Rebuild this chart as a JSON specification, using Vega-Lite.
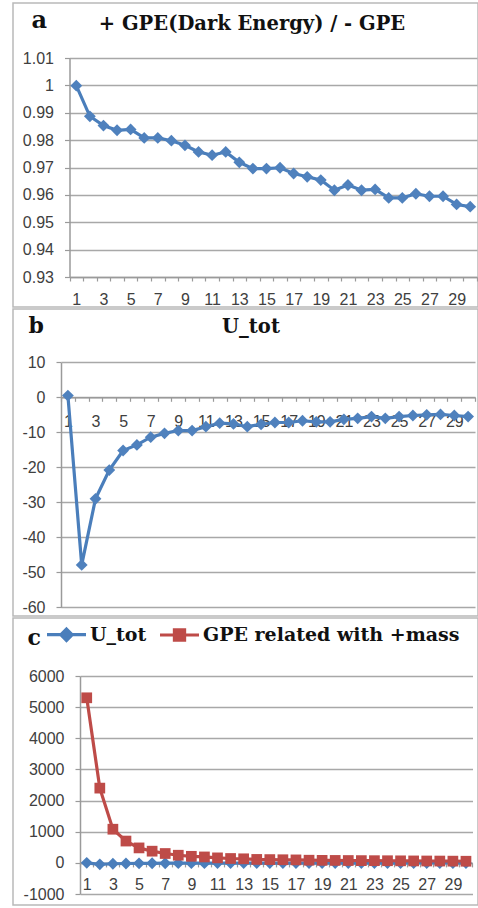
{
  "$schema": "https://vega.github.io/schema/vega-lite/v6.json",
  "padding": {"left": 12, "top": 2, "right": 0, "bottom": 0},
  "spacing": 0,
  "config": {
    "view": {"stroke": "#b9b9b9", "strokeWidth": 1.5},
    "axis": {
      "labelFont": "Liberation Sans", "labelFontSize": 16, "labelColor": "#404040",
      "domainColor": "#9a9a9a", "domainWidth": 1.5, "tickColor": "#9a9a9a", "tickWidth": 1.2,
      "gridColor": "#a8a8a8", "gridWidth": 1.6,
      "titleFont": "DejaVu Serif", "titleFontWeight": "bold", "titleColor": "#111111",
      "titleAngle": 0, "titleBaseline": "alphabetic"
    }
  },
  "datasets": {
    "ratio": [
      {"n": 1, "v": 0.9999}, {"n": 2, "v": 0.9887}, {"n": 3, "v": 0.9853}, {"n": 4, "v": 0.9836},
      {"n": 5, "v": 0.9839}, {"n": 6, "v": 0.9808}, {"n": 7, "v": 0.9808}, {"n": 8, "v": 0.9798},
      {"n": 9, "v": 0.9781}, {"n": 10, "v": 0.9757}, {"n": 11, "v": 0.9745}, {"n": 12, "v": 0.9757},
      {"n": 13, "v": 0.9719}, {"n": 14, "v": 0.9696}, {"n": 15, "v": 0.9696}, {"n": 16, "v": 0.9699},
      {"n": 17, "v": 0.9678}, {"n": 18, "v": 0.9666}, {"n": 19, "v": 0.9654}, {"n": 20, "v": 0.9617},
      {"n": 21, "v": 0.9636}, {"n": 22, "v": 0.9617}, {"n": 23, "v": 0.962}, {"n": 24, "v": 0.9589},
      {"n": 25, "v": 0.9589}, {"n": 26, "v": 0.9604}, {"n": 27, "v": 0.9595}, {"n": 28, "v": 0.9595},
      {"n": 29, "v": 0.9565}, {"n": 30, "v": 0.9557}
    ],
    "utot": [
      {"n": 1, "v": 0.5}, {"n": 2, "v": -47.9}, {"n": 3, "v": -29.0}, {"n": 4, "v": -20.8},
      {"n": 5, "v": -15.2}, {"n": 6, "v": -13.6}, {"n": 7, "v": -11.4}, {"n": 8, "v": -10.3},
      {"n": 9, "v": -9.5}, {"n": 10, "v": -9.5}, {"n": 11, "v": -8.4}, {"n": 12, "v": -7.4},
      {"n": 13, "v": -7.6}, {"n": 14, "v": -8.4}, {"n": 15, "v": -7.7}, {"n": 16, "v": -7.2},
      {"n": 17, "v": -7.2}, {"n": 18, "v": -6.7}, {"n": 19, "v": -7.0}, {"n": 20, "v": -7.0},
      {"n": 21, "v": -6.3}, {"n": 22, "v": -6.0}, {"n": 23, "v": -5.5}, {"n": 24, "v": -6.0},
      {"n": 25, "v": -5.5}, {"n": 26, "v": -5.2}, {"n": 27, "v": -5.0}, {"n": 28, "v": -4.9},
      {"n": 29, "v": -5.2}, {"n": 30, "v": -5.5}
    ],
    "both": [
      {"n": 1, "s": "U_tot", "v": 0.5}, {"n": 2, "s": "U_tot", "v": -47.9}, {"n": 3, "s": "U_tot", "v": -29.0},
      {"n": 4, "s": "U_tot", "v": -20.8}, {"n": 5, "s": "U_tot", "v": -15.2}, {"n": 6, "s": "U_tot", "v": -13.6},
      {"n": 7, "s": "U_tot", "v": -11.4}, {"n": 8, "s": "U_tot", "v": -10.3}, {"n": 9, "s": "U_tot", "v": -9.5},
      {"n": 10, "s": "U_tot", "v": -9.5}, {"n": 11, "s": "U_tot", "v": -8.4}, {"n": 12, "s": "U_tot", "v": -7.4},
      {"n": 13, "s": "U_tot", "v": -7.6}, {"n": 14, "s": "U_tot", "v": -8.4}, {"n": 15, "s": "U_tot", "v": -7.7},
      {"n": 16, "s": "U_tot", "v": -7.2}, {"n": 17, "s": "U_tot", "v": -7.2}, {"n": 18, "s": "U_tot", "v": -6.7},
      {"n": 19, "s": "U_tot", "v": -7.0}, {"n": 20, "s": "U_tot", "v": -7.0}, {"n": 21, "s": "U_tot", "v": -6.3},
      {"n": 22, "s": "U_tot", "v": -6.0}, {"n": 23, "s": "U_tot", "v": -5.5}, {"n": 24, "s": "U_tot", "v": -6.0},
      {"n": 25, "s": "U_tot", "v": -5.5}, {"n": 26, "s": "U_tot", "v": -5.2}, {"n": 27, "s": "U_tot", "v": -5.0},
      {"n": 28, "s": "U_tot", "v": -4.9}, {"n": 29, "s": "U_tot", "v": -5.2}, {"n": 30, "s": "U_tot", "v": -5.5},
      {"n": 1, "s": "GPE related with +mass", "v": 5300}, {"n": 2, "s": "GPE related with +mass", "v": 2400},
      {"n": 3, "s": "GPE related with +mass", "v": 1080}, {"n": 4, "s": "GPE related with +mass", "v": 700},
      {"n": 5, "s": "GPE related with +mass", "v": 480}, {"n": 6, "s": "GPE related with +mass", "v": 375},
      {"n": 7, "s": "GPE related with +mass", "v": 300}, {"n": 8, "s": "GPE related with +mass", "v": 245},
      {"n": 9, "s": "GPE related with +mass", "v": 210}, {"n": 10, "s": "GPE related with +mass", "v": 190},
      {"n": 11, "s": "GPE related with +mass", "v": 160}, {"n": 12, "s": "GPE related with +mass", "v": 140},
      {"n": 13, "s": "GPE related with +mass", "v": 130}, {"n": 14, "s": "GPE related with +mass", "v": 110},
      {"n": 15, "s": "GPE related with +mass", "v": 105}, {"n": 16, "s": "GPE related with +mass", "v": 100},
      {"n": 17, "s": "GPE related with +mass", "v": 95}, {"n": 18, "s": "GPE related with +mass", "v": 85},
      {"n": 19, "s": "GPE related with +mass", "v": 80}, {"n": 20, "s": "GPE related with +mass", "v": 78},
      {"n": 21, "s": "GPE related with +mass", "v": 75}, {"n": 22, "s": "GPE related with +mass", "v": 72},
      {"n": 23, "s": "GPE related with +mass", "v": 70}, {"n": 24, "s": "GPE related with +mass", "v": 68},
      {"n": 25, "s": "GPE related with +mass", "v": 65}, {"n": 26, "s": "GPE related with +mass", "v": 62},
      {"n": 27, "s": "GPE related with +mass", "v": 60}, {"n": 28, "s": "GPE related with +mass", "v": 58},
      {"n": 29, "s": "GPE related with +mass", "v": 55}, {"n": 30, "s": "GPE related with +mass", "v": 52}
    ]
  },
  "vconcat": [
    {
      "width": 465,
      "height": 304,
      "data": {"name": "ratio"},
      "encoding": {
        "x": {
          "field": "n", "type": "ordinal", "bandPosition": 0.5,
          "scale": {"type": "band", "range": [56.5, 464], "paddingInner": 0, "paddingOuter": 0},
          "axis": {
            "title": "+ GPE(Dark Energy) / - GPE", "titleX": 238.5, "titleY": -248, "titleAlign": "center",
            "titleFontSize": 19.5,
            "offset": -30, "tickBand": "extent", "tickSize": 4, "labelPadding": 10,
            "labelAngle": 0, "labelOverlap": false, "grid": false,
            "labelExpr": "datum.value % 2 == 1 ? datum.label : ''"
          }
        },
        "y": {
          "field": "v", "type": "quantitative",
          "scale": {"domain": [0.93, 1.01], "range": [274, 55], "nice": false, "zero": false},
          "axis": {
            "title": "a", "titleX": -38.5, "titleY": 24, "titleAlign": "left", "titleFontSize": 24,
            "values": [0.93, 0.94, 0.95, 0.96, 0.97, 0.98, 0.99, 1, 1.01],
            "labelExpr": "'' + datum.value",
            "offset": -56.5, "tickSize": 5, "labelPadding": 11, "grid": true
          }
        }
      },
      "layer": [
        {"mark": {"type": "line", "color": "#4a7ebb", "strokeWidth": 3.2}},
        {"mark": {"type": "point", "shape": "diamond", "filled": true, "size": 140, "color": "#4f81bd", "opacity": 1}}
      ]
    },
    {
      "width": 465,
      "height": 307,
      "data": {"name": "utot"},
      "encoding": {
        "x": {
          "field": "n", "type": "ordinal", "bandPosition": 0.5,
          "scale": {"type": "band", "range": [48, 462], "paddingInner": 0, "paddingOuter": 0},
          "axis": {
            "title": "U_tot", "titleX": 237.5, "titleY": -65.3, "titleAlign": "center", "titleFontSize": 19.5,
            "offset": -218.7, "tickBand": "extent", "tickSize": 4, "labelPadding": 12,
            "labelAngle": 0, "labelOverlap": false, "grid": false,
            "labelExpr": "datum.value % 2 == 1 ? datum.label : ''"
          }
        },
        "y": {
          "field": "v", "type": "quantitative",
          "scale": {"domain": [-60, 10], "range": [298.3, 53.3], "nice": false, "zero": false},
          "axis": {
            "title": "b", "titleX": -33, "titleY": 23, "titleAlign": "left", "titleFontSize": 22,
            "values": [-60, -50, -40, -30, -20, -10, 0, 10],
            "labelExpr": "'' + datum.value",
            "offset": -48, "tickSize": 5, "labelPadding": 11, "grid": true
          }
        }
      },
      "layer": [
        {"mark": {"type": "line", "color": "#4a7ebb", "strokeWidth": 3.2}},
        {"mark": {"type": "point", "shape": "diamond", "filled": true, "size": 140, "color": "#4f81bd", "opacity": 1}}
      ]
    },
    {
      "width": 465,
      "height": 287,
      "data": {"name": "both"},
      "encoding": {
        "x": {
          "field": "n", "type": "ordinal", "bandPosition": 0.5,
          "scale": {"type": "band", "range": [67.2, 459.5], "paddingInner": 0, "paddingOuter": 0},
          "axis": {
            "title": null, "offset": -42.1, "tickBand": "extent", "tickSize": 4, "labelPadding": 10,
            "labelAngle": 0, "labelOverlap": false, "grid": false,
            "labelExpr": "datum.value % 2 == 1 ? datum.label : ''"
          }
        },
        "y": {
          "field": "v", "type": "quantitative",
          "scale": {"domain": [-1000, 6000], "range": [276, 58], "nice": false, "zero": false},
          "axis": {
            "title": "c", "titleX": -53, "titleY": 26, "titleAlign": "left", "titleFontSize": 22,
            "values": [-1000, 0, 1000, 2000, 3000, 4000, 5000, 6000],
            "labelExpr": "'' + datum.value",
            "offset": -67, "tickSize": 5, "labelPadding": 11, "grid": true
          }
        },
        "color": {
          "field": "s", "type": "nominal",
          "scale": {"domain": ["U_tot", "GPE related with +mass"], "range": ["#4a7ebb", "#be4b48"]},
          "legend": {
            "orient": "none", "legendX": 32, "legendY": 610, "direction": "horizontal", "title": null,
            "padding": 0, "labelFont": "DejaVu Serif", "labelFontWeight": "bold", "labelFontSize": 19,
            "labelColor": "#111111", "labelLimit": 400, "symbolSize": 1521, "labelOffset": 2, "columnPadding": 6,
            "encode": {
              "symbols": {
                "update": {
                  "shape": {"signal": "datum.value === 'U_tot' ? 'M-1,0H1M0,-0.29L0.29,0L0,0.29L-0.29,0Z' : 'M-1,0H1M-0.26,-0.26H0.26V0.26H-0.26Z'"},
                  "fill": {"signal": "datum.value === 'U_tot' ? '#4f81bd' : '#c0504d'"},
                  "stroke": {"signal": "datum.value === 'U_tot' ? '#4a7ebb' : '#be4b48'"},
                  "strokeWidth": {"value": 3.2},
                  "size": {"value": 1521},
                  "opacity": {"value": 1}
                }
              }
            }
          }
        }
      },
      "layer": [
        {"mark": {"type": "line", "strokeWidth": 3.2}},
        {
          "transform": [{"filter": "datum.s === 'U_tot'"}],
          "mark": {"type": "point", "shape": "diamond", "filled": true, "size": 140, "opacity": 1}
        },
        {
          "transform": [{"filter": "datum.s !== 'U_tot'"}],
          "mark": {"type": "point", "shape": "square", "filled": true, "size": 115, "opacity": 1}
        }
      ]
    }
  ]
}
